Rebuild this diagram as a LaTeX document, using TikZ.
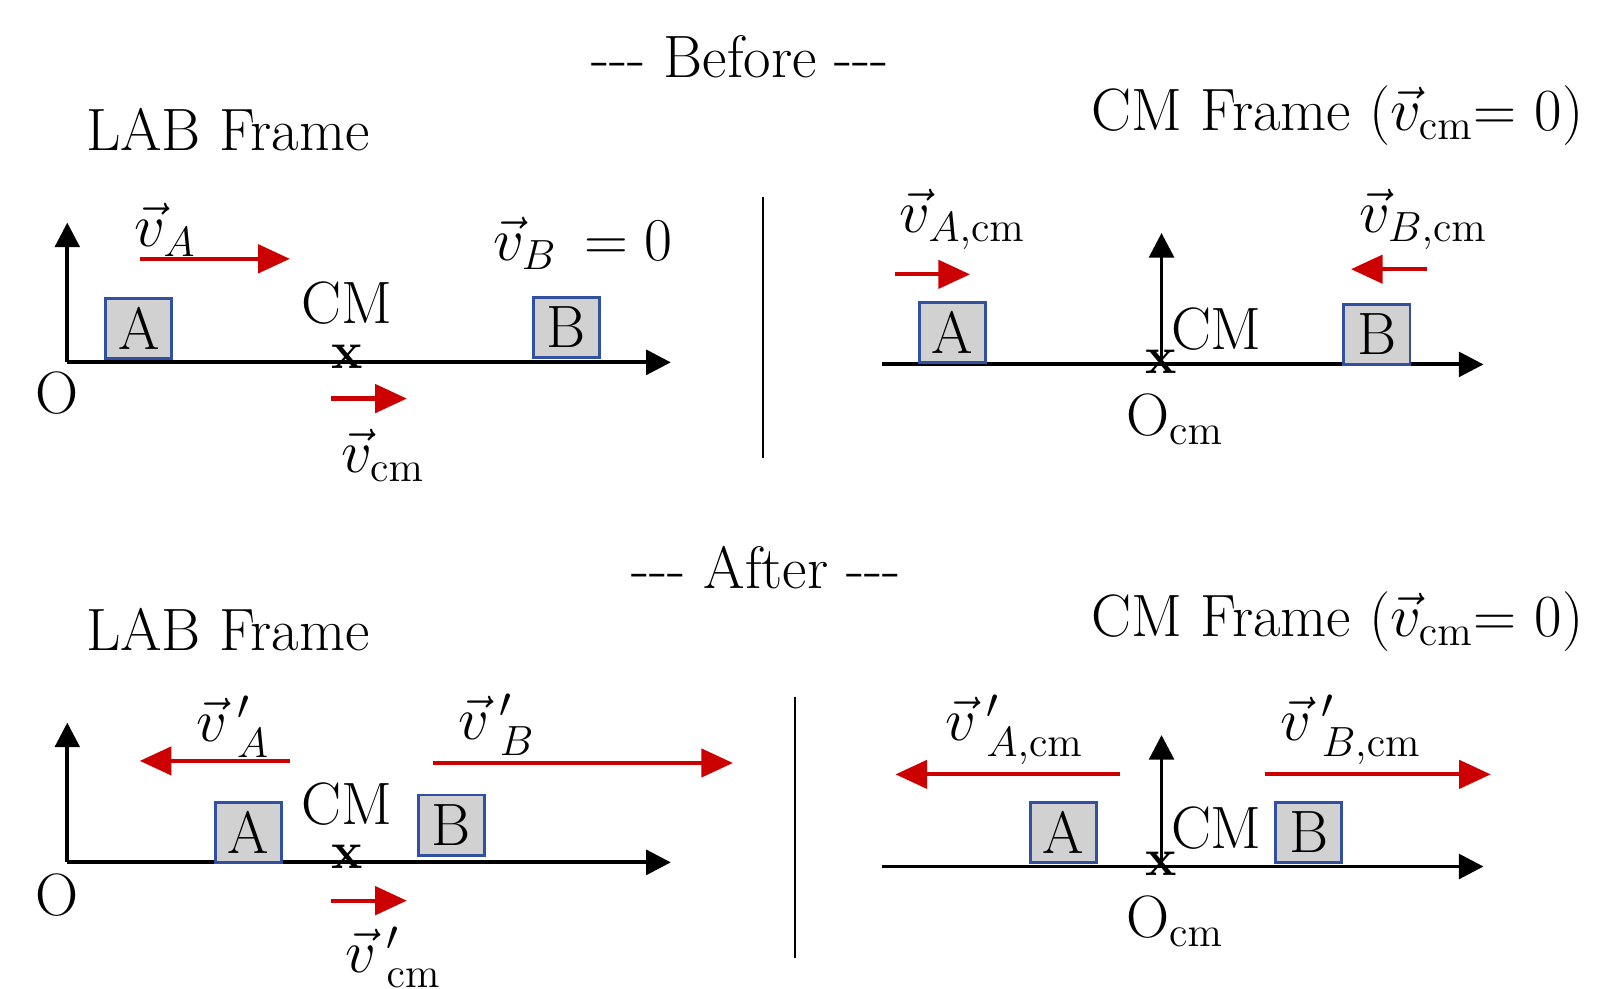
\documentclass[tikz,border=0pt]{standalone}
\usepackage{amsmath}
\usetikzlibrary{arrows.meta}
\tikzset{
  txt/.style={font=\fontsize{17}{20}\selectfont,inner sep=0pt},
  blk/.style={draw={rgb,255:red,50;green,80;blue,160},fill=black!18,line width=0.8pt,font=\fontsize{17}{20}\selectfont,minimum width=0.66cm,minimum height=0.6cm,inner sep=0pt},
  crs/.style={font=\bfseries\fontsize{15}{18}\selectfont,inner sep=0pt},
  axis/.style={line width=1.1pt,-{Triangle[length=7pt,width=7pt]}},
  vel/.style={line width=1.2pt,red!80!black,-{Triangle[length=9pt,width=8pt]}}
}
\begin{document}
\begin{tikzpicture}[x=0.01035cm,y=-0.01035cm]
        \useasboundingbox (0,0) rectangle (1561,955);
        % titles
        \node[txt] (before) at (715,55) {-{}-{}- Before -{}-{}-};
        \node[txt] (after) at (740,548) {-{}-{}- After -{}-{}-};
        \node[txt] (labtop) at (220,125) {LAB Frame};
        \node[txt] (labbot) at (220,608) {LAB Frame};
        \node[txt] (cmtop) at (1292,112) {CM Frame ($\vec{v}_{\mathrm{cm}}$= 0)};
        \node[txt] (cmbot) at (1292,600) {CM Frame ($\vec{v}_{\mathrm{cm}}$= 0)};
        \draw[line width=0.8pt] (737,190) -- (737,442);
        \draw[line width=0.8pt] (768,673) -- (768,925);
        % lab frame, before
        \coordinate (o1) at (65,350);
        \draw[axis] (o1) -- (648,350);
        \draw[axis] (o1) -- (65,215);
        \node[txt] (O1) at (55,380) {O};
        \node[blk] (A1) at (134,317) {A};
        \node[blk] (B1) at (547,316) {B};
        \node[txt] (cm1) at (335,293) {CM};
        \node[crs] (x1) at (335,345) {x};
        \node[txt] (vA1) at (160,222) {$\vec{v}_A$};
        \draw[vel] (135,250) -- (280,250);
        \node[txt] (vB1) at (563,235) {$\vec{v}_B\, = 0$};
        \draw[vel] (320,385) -- (393,385);
        \node[txt] (vcm1) at (370,440) {$\vec{v}_{\mathrm{cm}}$};
        % cm frame, before
        \coordinate (c1) at (1122,352);
        \draw[axis] (852,352) -- (1433,352);
        \draw[axis] (c1) -- (1122,225);
        \node[blk] (A2) at (920,321) {A};
        \node[blk] (B2) at (1330,323) {B};
        \node[txt] (cm2) at (1175,318) {CM};
        \node[crs] (x2) at (1122,349) {x};
        \node[txt] (Oc1) at (1135,405) {O$_{\mathrm{cm}}$};
        \node[txt] (vA2) at (930,212) {$\vec{v}_{A,\mathrm{cm}}$};
        \draw[vel] (865,265) -- (937,265);
        \node[txt] (vB2) at (1375,212) {$\vec{v}_{B,\mathrm{cm}}$};
        \draw[vel] (1378,260) -- (1305,260);
        % lab frame, after
        \coordinate (o3) at (65,833);
        \draw[axis] (o3) -- (648,833);
        \draw[axis] (o3) -- (65,698);
        \node[txt] (O3) at (55,865) {O};
        \node[blk] (A3) at (240,804) {A};
        \node[blk] (B3) at (436,797) {B};
        \node[txt] (cm3) at (335,777) {CM};
        \node[crs] (x3) at (335,828) {x};
        \node[txt] (vA3) at (225,702) {$\vec{v}\,'_A$};
        \draw[vel] (280,735) -- (135,735);
        \node[txt] (vB3) at (480,700) {$\vec{v}\,'_B$};
        \draw[vel] (418,737) -- (708,737);
        \draw[vel] (320,870) -- (393,870);
        \node[txt] (vcm3) at (380,925) {$\vec{v}\,'_{\mathrm{cm}}$};
        % cm frame, after
        \coordinate (c3) at (1122,837);
        \draw[axis] (852,837) -- (1433,837);
        \draw[axis] (c3) -- (1122,710);
        \node[blk] (A4) at (1027,804) {A};
        \node[blk] (B4) at (1264,804) {B};
        \node[txt] (cm4) at (1175,800) {CM};
        \node[crs] (x4) at (1122,834) {x};
        \node[txt] (Oc4) at (1135,890) {O$_{\mathrm{cm}}$};
        \node[txt] (vA4) at (980,705) {$\vec{v}\,'_{A,\mathrm{cm}}$};
        \draw[vel] (1082,748) -- (865,748);
        \node[txt] (vB4) at (1305,705) {$\vec{v}\,'_{B,\mathrm{cm}}$};
        \draw[vel] (1222,748) -- (1440,748);
\end{tikzpicture}
\end{document}
